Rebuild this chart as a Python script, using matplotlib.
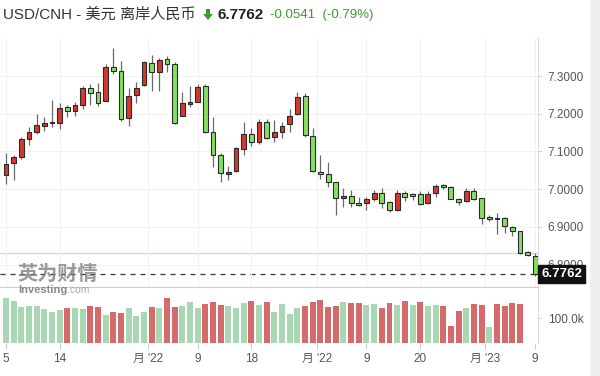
import numpy as np
import matplotlib
matplotlib.use("Agg")
import matplotlib.pyplot as plt
from matplotlib.patches import Polygon, Rectangle
from matplotlib.transforms import blended_transform_factory

plt.rcParams['font.family'] = ['Liberation Sans', 'Noto Sans CJK SC', 'DejaVu Sans']

# daily candles, USD/CNH
opens = [7.038, 7.070, 7.085, 7.133, 7.152, 7.168, 7.176, 7.175, 7.218, 7.207,
         7.223, 7.268, 7.258, 7.234, 7.324, 7.313, 7.189, 7.250, 7.276, 7.334,
         7.310, 7.345, 7.332, 7.194, 7.226, 7.231, 7.273, 7.152, 7.091, 7.040,
         7.048, 7.107, 7.146, 7.125, 7.178, 7.138, 7.152, 7.173, 7.199, 7.247,
         7.141, 7.046, 7.040, 7.019, 6.977, 6.982, 6.964, 6.964, 6.974, 6.990,
         6.966, 6.945, 6.990, 6.986, 6.987, 6.964, 6.990, 7.011, 7.006, 6.974,
         6.969, 6.995, 6.977, 6.926, 6.924, 6.924, 6.900, 6.889, 6.834, 6.823]
highs = [7.096, 7.091, 7.138, 7.165, 7.199, 7.191, 7.236, 7.228, 7.223, 7.231,
         7.273, 7.279, 7.281, 7.332, 7.374, 7.340, 7.268, 7.284, 7.340, 7.356,
         7.348, 7.353, 7.337, 7.258, 7.273, 7.279, 7.280, 7.191, 7.096, 7.062,
         7.112, 7.178, 7.162, 7.186, 7.186, 7.183, 7.178, 7.213, 7.258, 7.255,
         7.162, 7.091, 7.072, 7.019, 7.003, 6.998, 6.980, 6.980, 6.998, 7.003,
         6.969, 6.998, 6.995, 6.990, 6.995, 6.995, 7.014, 7.014, 7.009, 6.977,
         7.003, 7.003, 6.977, 6.932, 6.937, 6.926, 6.903, 6.889, 6.836, 6.831]
lows = [7.014, 7.024, 7.080, 7.117, 7.146, 7.154, 7.165, 7.160, 7.191, 7.194,
        7.213, 7.223, 7.220, 7.234, 7.305, 7.180, 7.168, 7.228, 7.273, 7.260,
        7.260, 7.311, 7.173, 7.194, 7.218, 7.231, 7.150, 7.059, 7.019, 7.024,
        7.046, 7.091, 7.115, 7.120, 7.133, 7.125, 7.136, 7.152, 7.197, 7.138,
        7.046, 7.027, 7.006, 6.932, 6.953, 6.953, 6.956, 6.945, 6.969, 6.950,
        6.940, 6.943, 6.969, 6.972, 6.958, 6.961, 6.980, 7.001, 6.974, 6.958,
        6.966, 6.972, 6.908, 6.916, 6.881, 6.884, 6.876, 6.829, 6.823, 6.770]
closes = [7.067, 7.085, 7.133, 7.152, 7.170, 7.175, 7.175, 7.215, 7.207, 7.223,
          7.268, 7.255, 7.228, 7.324, 7.313, 7.186, 7.247, 7.268, 7.337, 7.310,
          7.342, 7.332, 7.175, 7.228, 7.231, 7.271, 7.152, 7.091, 7.043, 7.046,
          7.109, 7.146, 7.125, 7.178, 7.136, 7.152, 7.168, 7.194, 7.244, 7.144,
          7.048, 7.040, 7.019, 6.977, 6.980, 6.964, 6.958, 6.974, 6.990, 6.964,
          6.945, 6.990, 6.980, 6.983, 6.961, 6.987, 7.009, 7.006, 6.974, 6.966,
          6.995, 6.974, 6.924, 6.921, 6.921, 6.903, 6.889, 6.831, 6.826, 6.7762]

# volume in thousands (last two sessions have none)
volumes = [181, 172, 145, 149, 152, 138, 127, 134, 141, 141,
           138, 149, 145, 114, 127, 122, 141, 111, 127, 145,
           141, 184, 145, 149, 165, 141, 157, 165, 154, 152,
           141, 163, 172, 156, 165, 124, 160, 119, 143, 149,
           168, 176, 145, 149, 165, 161, 161, 154, 157, 142,
           161, 154, 172, 154, 165, 149, 154, 149, 67, 128,
           141, 157, 154, 63, 157, 149, 163, 159]
vol_up = "ggggggggrggrrgrrgggrgrrgggrrrgggrgrggggrrrrrgrrggrrgrgrggrrrgrrgrrrr"

tick_pos = [0, 7, 18.5, 25, 32, 40.5, 47, 54, 62.5, 69]
tick_labels = ["5", "14", "月 '22", "9", "18", "月 '22", "9", "20", "月 '23", "9"]
price_ticks = [6.8, 6.9, 7.0, 7.1, 7.2, 7.3]
last_price = 6.7762
prev_close = 6.8303

RED = '#d8372c'
GREEN = '#86e05f'
VRED = '#d46a6a'
VGREEN = '#a9d6b3'
TXT = '#555555'

fig = plt.figure(figsize=(6, 3.76), dpi=100)
W, H = 600, 376

def px(x0, y0, x1, y1):
    return [x0 / W, 1 - y1 / H, (x1 - x0) / W, (y1 - y0) / H]

ax = fig.add_axes(px(0, 38, 538, 287))
axv = fig.add_axes(px(0, 288, 538, 343), sharex=ax)

o = np.array(opens); c = np.array(closes)
h = np.array(highs); l = np.array(lows)
x = np.arange(len(o))
up = c >= o

ax.vlines(x, l, h, color='#6a6a6a', lw=0.9, zorder=2)
bottoms = np.minimum(o, c)
heights = np.maximum(np.abs(c - o), 0.004)
ax.bar(x, heights, bottom=bottoms, width=0.62,
       color=np.where(up, RED, GREEN), edgecolor='#2b2b2b', linewidth=0.8, zorder=3)

ax.axhline(prev_close, color='#f5c9c9', lw=1, zorder=1)
ax.axhline(last_price, color='#333333', lw=0.9, ls=(0, (4, 4)), zorder=1)

ax.set_xlim(-0.78, 69.36)
ax.set_ylim(6.741, 7.4007)
ax.set_yticks(price_ticks)
ax.set_yticklabels(["%.4f" % v for v in price_ticks])
ax.yaxis.tick_right()
ax.tick_params(axis='y', length=3, color='#d8d8d8', pad=4, labelsize=8.5, labelcolor=TXT)
ax.tick_params(axis='x', bottom=False, labelbottom=False)
ax.set_xticks(tick_pos)
ax.grid(True, color='#f1f1f1', lw=0.8, zorder=0)
for s in ['top', 'left']:
    ax.spines[s].set_visible(False)
ax.spines['right'].set_color('#dddddd')
ax.spines['bottom'].set_color('#cccccc')

trans = blended_transform_factory(ax.transAxes, ax.transData)
ax.text(1.006, last_price, "%.4f" % last_price, transform=trans, ha='left', va='center',
        color='white', fontsize=9.5, fontweight='bold', zorder=10, clip_on=False,
        bbox=dict(boxstyle='square,pad=0.22', fc='#111111', ec='#111111'))

vx = np.arange(len(volumes))
vcol = [VRED if k == 'r' else VGREEN for k in vol_up]
axv.bar(vx, volumes, width=0.78, color=vcol, linewidth=0)
axv.set_ylim(0, 223)
axv.set_yticks([100])
axv.set_yticklabels(["100.0k"])
axv.yaxis.tick_right()
axv.tick_params(axis='y', length=3, color='#d8d8d8', pad=4, labelsize=8.5, labelcolor=TXT)
axv.set_xticks(tick_pos)
axv.set_xticklabels(tick_labels)
axv.tick_params(axis='x', length=4, color='#cccccc', pad=3, labelsize=8.5, labelcolor=TXT)
for s in ['top', 'left', 'bottom']:
    axv.spines[s].set_visible(False)
axv.spines['right'].set_color('#dddddd')

# header
fig.text(3 / W, 1 - 15 / H, "USD/CNH - 美元 离岸人民币", fontsize=10.9, color='#333333', va='center')
arrow = [(206, 9), (210, 9), (210, 14), (213, 14), (208, 20), (203, 14), (206, 14)]
fig.patches.append(Polygon([(a / W, 1 - b / H) for a, b in arrow], closed=True,
                           transform=fig.transFigure, fc='#3c9a2f', ec='none'))
fig.text(217 / W, 1 - 15 / H, "6.7762", fontsize=11, fontweight='bold', color='#222222', va='center')
fig.text(270 / W, 1 - 15 / H, "-0.0541  (-0.79%)", fontsize=9.5, color='#3c9a2f', va='center')

# watermark
fig.text(17 / W, 1 - 274 / H, "英为财情", fontsize=14.5, fontweight='bold', color='#808080',
         alpha=0.8, va='center')
fig.text(18 / W, 1 - 290 / H, "Investing", fontsize=8, fontweight='bold', color='#777777',
         alpha=0.85, va='center')
fig.text(67 / W, 1 - 290 / H, ".com", fontsize=7.5, color='#aaaaaa', va='center')

fig.patches.append(Rectangle((590 / W, 0), 10 / W, 1, transform=fig.transFigure,
                             fc='#efefef', ec='none'))

fig.savefig("out.png", dpi=100)
